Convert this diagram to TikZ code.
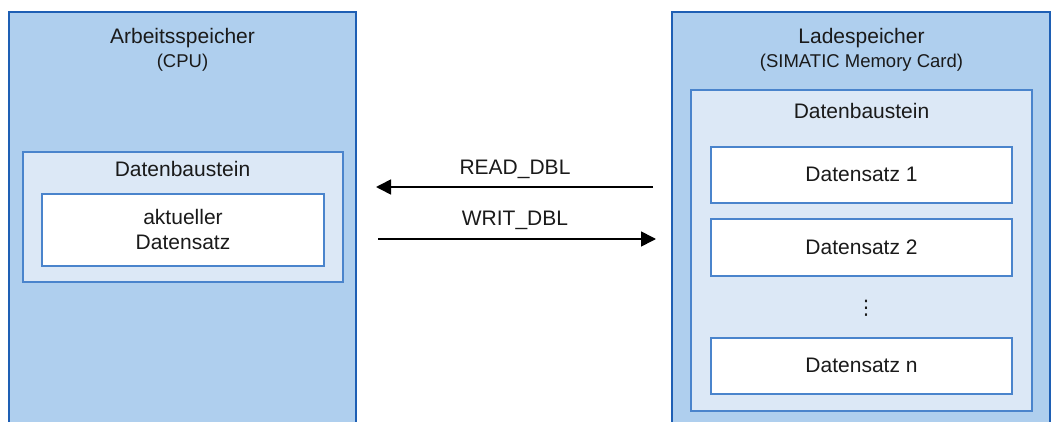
\documentclass[tikz,border=0pt]{standalone}
\usepackage{fontspec}
\setmainfont{Liberation Sans}
\newfontfamily\dotsfont{DejaVu Sans}
\usetikzlibrary{arrows.meta}
\definecolor{outerfill}{HTML}{AFCFEE}
\definecolor{outerline}{HTML}{1E5FB4}
\definecolor{innerfill}{HTML}{DCE8F6}
\definecolor{innerline}{HTML}{4A84CC}
\definecolor{txt}{HTML}{1A1A1A}
\begin{document}
\begin{tikzpicture}[x=1pt,y=-1pt,
  box/.style={anchor=north west, inner sep=0pt, outer sep=0pt},
  outerbox/.style={box, draw=outerline, line width=2pt, fill=outerfill},
  innerbox/.style={box, draw=innerline, line width=1.5pt, fill=innerfill},
  recbox/.style={box, draw=innerline, line width=1.3pt, fill=white},
  big/.style={text=txt, font=\fontsize{21}{25}\selectfont, anchor=base, inner sep=0pt},
  small/.style={text=txt, font=\fontsize{18.5}{22}\selectfont, anchor=base, inner sep=0pt},
  arr/.style={draw=black, line width=1.6pt, -{Triangle[length=15pt,width=15pt]}}
]
\useasboundingbox (0,0) rectangle (1051,422);
\clip (0,0) rectangle (1051,422);
% left memory
\node[outerbox, minimum width=347pt, minimum height=440pt] (lo) at (9,12) {};
\node[big] (lt1) at (182.5,44) {Arbeitsspeicher};
\node[small] (lt2) at (182.5,68) {(CPU)};
\node[innerbox, minimum width=320pt, minimum height=130pt] (ldb) at (23,152) {};
\node[big] (ldbt) at (182.5,177) {Datenbaustein};
\node[recbox, minimum width=282pt, minimum height=72pt] (lrec) at (42,194) {};
\node[big] (lrt1) at (183,224) {aktueller};
\node[big] (lrt2) at (183,249) {Datensatz};
% right memory
\node[outerbox, minimum width=378pt, minimum height=440pt] (ro) at (672,12) {};
\node[big] (rt1) at (861.5,44) {Ladespeicher};
\node[small] (rt2) at (861.5,68) {(SIMATIC Memory Card)};
\node[innerbox, minimum width=341pt, minimum height=321pt] (rdb) at (691,90) {};
\node[big] (rdbt) at (861.5,119) {Datenbaustein};
\node[recbox, minimum width=301pt, minimum height=56pt] (r1) at (711,147) {};
\node[big] (r1t) at (861.5,182) {Datensatz 1};
\node[recbox, minimum width=301pt, minimum height=57pt] (r2) at (711,219) {};
\node[big] (r2t) at (861.5,254) {Datensatz 2};
\node[text=txt, font=\dotsfont\fontsize{20}{24}\selectfont, inner sep=0pt, anchor=center] (rdots) at (866,308) {⋮};
\node[recbox, minimum width=301pt, minimum height=56pt] (rn) at (711,338) {};
\node[big] (rnt) at (861.5,372) {Datensatz n};
% arrows
\draw[arr, shorten <=19pt, shorten >=20pt] (ro.west |- 0,187) -- (lo.east |- 0,187);
\node[big] (lread) at (515,175) {READ\_DBL};
\draw[arr, shorten <=22pt, shorten >=16pt] (lo.east |- 0,239) -- (ro.west |- 0,239);
\node[big] (lwrit) at (515,225) {WRIT\_DBL};
\end{tikzpicture}
\end{document}
